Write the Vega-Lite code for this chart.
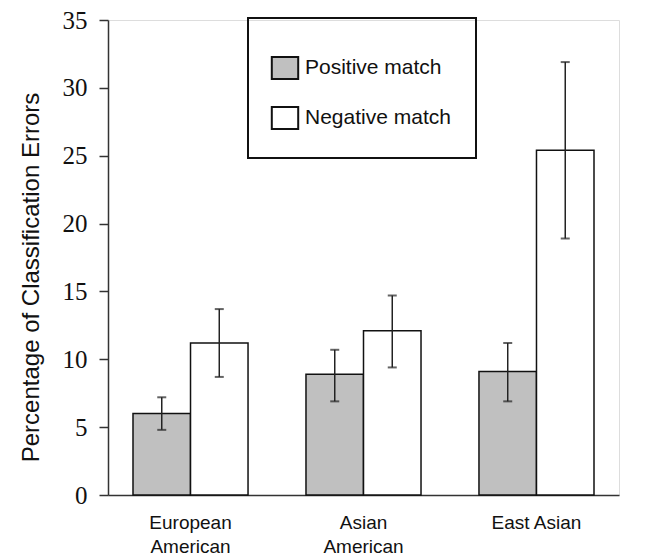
{
  "$schema": "https://vega.github.io/schema/vega-lite/v6.json",
  "autosize": {"type": "none"},
  "padding": {"left": 108, "top": 20, "right": 33, "bottom": 63},
  "width": 511,
  "height": 475,
  "background": "white",
  "config": {
    "axisY": {"labelFont": "Liberation Serif", "labelFontSize": 25}
  },
  "data": {
    "values": [
      {"group": "European American", "type": "Positive match", "value": 6.0, "lo": 4.8, "hi": 7.2},
      {"group": "European American", "type": "Negative match", "value": 11.2, "lo": 8.7, "hi": 13.7},
      {"group": "Asian American", "type": "Positive match", "value": 8.9, "lo": 6.9, "hi": 10.7},
      {"group": "Asian American", "type": "Negative match", "value": 12.1, "lo": 9.4, "hi": 14.7},
      {"group": "East Asian", "type": "Positive match", "value": 9.1, "lo": 6.9, "hi": 11.2},
      {"group": "East Asian", "type": "Negative match", "value": 25.4, "lo": 18.9, "hi": 31.9}
    ]
  },
  "encoding": {
    "x": {
      "field": "group", "type": "nominal", "sort": null,
      "scale": {"paddingInner": 0.335, "paddingOuter": 0.1445},
      "axis": {
        "title": null, "labelAngle": 0, "ticks": false,
        "labelExpr": "datum.label == 'East Asian' ? datum.label : split(datum.label, ' ')",
        "labelFont": "Liberation Sans", "labelFontSize": 19, "labelColor": "#111",
        "labelPadding": 18, "labelLineHeight": 24, "labelBaseline": "top",
        "domainColor": "#333", "domainWidth": 1.5
      }
    },
    "xOffset": {
      "field": "type", "type": "nominal",
      "sort": ["Positive match", "Negative match"],
      "scale": {"paddingInner": 0, "paddingOuter": 0}
    }
  },
  "layer": [
    {
      "mark": {"type": "bar", "stroke": "#111", "strokeWidth": 1.5},
      "encoding": {
        "y": {
          "field": "value", "type": "quantitative",
          "scale": {"domain": [0, 35], "nice": false},
          "axis": {
            "title": "Percentage of Classification Errors",
            "values": [0, 5, 10, 15, 20, 25, 30, 35],
            "grid": false,
            "labelFont": "Liberation Serif",
            "labelFontSize": 25, "labelColor": "#111",
            "labelPadding": 12, "tickSize": 9, "tickColor": "#333", "tickWidth": 1.5,
            "domainColor": "#333", "domainWidth": 1.5,
            "titleFont": "Liberation Sans", "titleFontSize": 24, "titleFontWeight": "normal",
            "titleColor": "#111", "titlePadding": 19, "titleY": 257
          }
        },
        "fill": {
          "field": "type", "type": "nominal",
          "scale": {"domain": ["Positive match", "Negative match"], "range": ["#c0c0c0", "#ffffff"]},
          "legend": {
            "title": " ",
            "orient": "none",
            "legendX": 140,
            "legendY": -2,
            "padding": 25,
            "titleFontSize": 13,
            "titlePadding": 0,
            "symbolType": "M-1.2,-1L1.2,-1L1.2,1L-1.2,1Z",
            "symbolSize": 484,
            "symbolStrokeColor": "#111",
            "symbolStrokeWidth": 2,
            "labelFont": "Liberation Sans",
            "labelFontSize": 21,
            "labelColor": "#111",
            "labelOffset": 8,
            "rowPadding": 20,
            "strokeColor": "#111",
            "encode": {"legend": {"update": {"strokeWidth": {"value": 2}}}}
          }
        }
      }
    },
    {
      "mark": {"type": "rule", "color": "#222", "strokeWidth": 1.5},
      "encoding": {
        "y": {"field": "lo", "type": "quantitative", "axis": {"labelFont": "Liberation Serif", "labelFontSize": 25}},
        "y2": {"field": "hi"}
      }
    },
    {
      "mark": {"type": "tick", "color": "#222", "thickness": 2, "size": 9},
      "encoding": {"y": {"field": "lo", "type": "quantitative", "axis": {"labelFont": "Liberation Serif", "labelFontSize": 25}}}
    },
    {
      "mark": {"type": "tick", "color": "#222", "thickness": 2, "size": 9},
      "encoding": {"y": {"field": "hi", "type": "quantitative", "axis": {"labelFont": "Liberation Serif", "labelFontSize": 25}}}
    }
  ]
}
